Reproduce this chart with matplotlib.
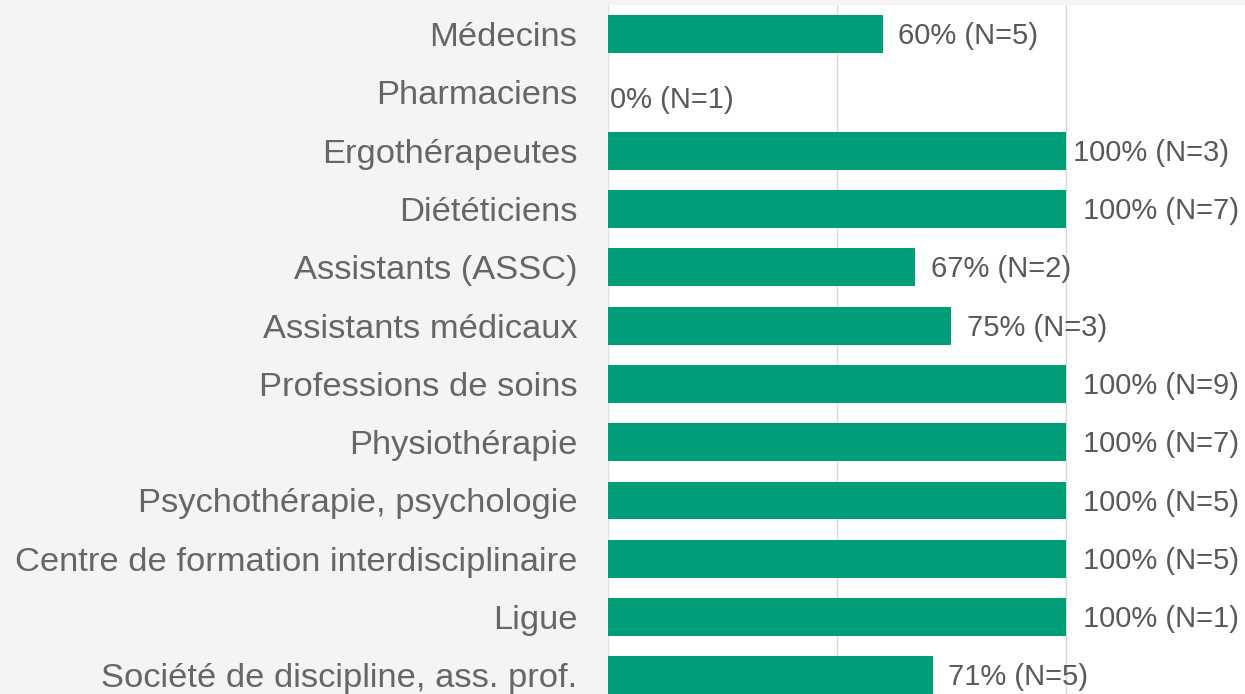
import matplotlib.pyplot as plt
import matplotlib.transforms as mtransforms

plt.rcParams['font.family'] = ['Liberation Sans', 'DejaVu Sans']

# --- DATI ---
categories = [
    'Médecins', 'Pharmaciens', 'Ergothérapeutes', 'Diététiciens',
    'Assistants (ASSC)', 'Assistants médicaux', 'Professions de soins',
    'Physiothérapie', 'Psychothérapie, psychologie',
    'Centre de formation interdisciplinaire', 'Ligue',
    'Société de discipline, ass. prof.',
]
percent = [60, 0, 100, 100, 67, 75, 100, 100, 100, 100, 100, 71]
n_resp = [5, 1, 3, 7, 2, 3, 9, 7, 5, 5, 1, 5]

# scarto (px) tra fine barra e etichetta
label_pad = [15, 2, 7, 17, 16, 16, 17, 17, 17, 17, 17, 15]

BAR_COLOR = '#009E78'
BG = '#f4f4f4'

fig = plt.figure(figsize=(12.45, 6.94), dpi=100, facecolor=BG)
ax = fig.add_axes([608 / 1245, 0, 1 - 608 / 1245, 1 - 5 / 694])
ax.set_facecolor('white')

y = list(range(len(categories)))
ax.barh(y, percent, height=0.65, color=BAR_COLOR, zorder=2)

ax.set_xlim(0, 139.1)
ax.set_ylim(11.32, -0.5)

# griglia verticale
for xv in (50, 100):
    ax.axvline(xv, color='#d9d9d9', linewidth=1, zorder=1)
ax.axvline(0, color='#e0e0e0', linewidth=1, zorder=1)

ax.set_yticks(y)
ax.set_yticklabels(categories, fontsize=24.8, color='#666666')
ax.tick_params(axis='y', length=0, pad=22)
ax.set_xticks([])
for s in ax.spines.values():
    s.set_visible(False)

for yi, p, n, pad in zip(y, percent, n_resp, label_pad):
    offset = mtransforms.offset_copy(ax.transData, fig=fig, x=pad * 0.72, y=-1.5, units='points')
    dy = 0.1 if p == 0 else 0
    ax.text(p, yi + dy, f'{p}% (N={n})', transform=offset, fontsize=21,
            color='#595959', va='center', ha='left', zorder=3)

plt.savefig('out.png', dpi=100, facecolor=BG)
